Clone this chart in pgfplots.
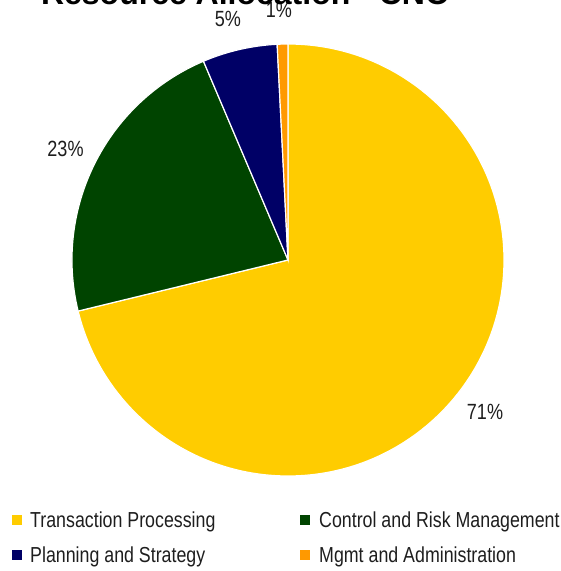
\documentclass[border=0pt]{standalone}
\usepackage{pgfplots}
\pgfplotsset{compat=1.18}
\usepackage{pgfplotstable}
\usepackage{fontspec}
\setmainfont{Liberation Sans}
\newfontfamily\narrowfont[FakeStretch=0.82]{Liberation Sans}
\definecolor{cTP}{RGB}{255,204,0}
\definecolor{cCR}{RGB}{0,68,0}
\definecolor{cPS}{RGB}{0,0,102}
\definecolor{cMA}{RGB}{255,153,0}
\definecolor{txt}{RGB}{30,30,30}

\pgfplotstableread{
share
71.2
22.4
5.6
0.8
}\piedata

\begin{document}
\begin{tikzpicture}
\pgfplotstablegetelem{0}{share}\of\piedata \pgfmathsetmacro\sA{\pgfplotsretval}
\pgfplotstablegetelem{1}{share}\of\piedata \pgfmathsetmacro\sB{\pgfplotsretval}
\pgfplotstablegetelem{2}{share}\of\piedata \pgfmathsetmacro\sC{\pgfplotsretval}
\pgfplotstablegetelem{3}{share}\of\piedata \pgfmathsetmacro\sD{\pgfplotsretval}
\pgfmathsetmacro\aA{90}
\pgfmathsetmacro\aB{\aA-3.6*\sA}
\pgfmathsetmacro\aC{\aB-3.6*\sB}
\pgfmathsetmacro\aD{\aC-3.6*\sC}
\pgfmathsetmacro\aE{\aD-3.6*\sD}
\begin{axis}[
  x=1bp, y=1bp,
  xmin=0, xmax=561, ymin=0, ymax=571,
  hide axis, clip=true,
  anchor=south west, at={(0,0)},
]
\fill[cTP, draw=white, line width=1.2pt] (axis cs:288,311) -- ++(\aA:216bp) arc[start angle=\aA, end angle=\aB, radius=216bp] -- cycle;
\fill[cCR, draw=white, line width=1.2pt] (axis cs:288,311) -- ++(\aB:216bp) arc[start angle=\aB, end angle=\aC, radius=216bp] -- cycle;
\fill[cPS, draw=white, line width=1.2pt] (axis cs:288,311) -- ++(\aC:216bp) arc[start angle=\aC, end angle=\aD, radius=216bp] -- cycle;
\fill[cMA, draw=white, line width=1.2pt] (axis cs:288,311) -- ++(\aD:216bp) arc[start angle=\aD, end angle=\aE, radius=216bp] -- cycle;
% data labels
\begin{scope}[every node/.style={font=\narrowfont\fontsize{22bp}{24bp}\selectfont, text=txt, anchor=base, inner sep=0pt}]
\node at (axis cs:485,152) {71\%};
\node at (axis cs:65.5,414) {23\%};
\node at (axis cs:228,544) {5\%};
\node at (axis cs:279,553) {1\%};
\end{scope}
% title (cut off at top)
\node[font=\bfseries\fontsize{32bp}{34bp}\selectfont, anchor=base, inner sep=0pt] at (axis cs:245.5,566) {Resource Allocation - CNO};
% legend
\begin{scope}[every node/.style={font=\narrowfont\fontsize{21.7bp}{23bp}\selectfont, text=txt, anchor=base west, inner sep=0pt}]
\fill[cTP] (axis cs:12,46) rectangle (axis cs:21.5,56);
\node at (axis cs:30,44) {Transaction Processing};
\fill[cCR] (axis cs:300,46) rectangle (axis cs:309.5,56);
\node at (axis cs:319,44) {Control and Risk Management};
\fill[cPS] (axis cs:12,11) rectangle (axis cs:21.5,21);
\node at (axis cs:30,9) {Planning and Strategy};
\fill[cMA] (axis cs:300,11) rectangle (axis cs:309.5,21);
\node at (axis cs:319,9) {Mgmt and Administration};
\end{scope}
\end{axis}
\pgfresetboundingbox
\path[use as bounding box] (0,0) rectangle (561bp,571bp);
\end{tikzpicture}
\end{document}
